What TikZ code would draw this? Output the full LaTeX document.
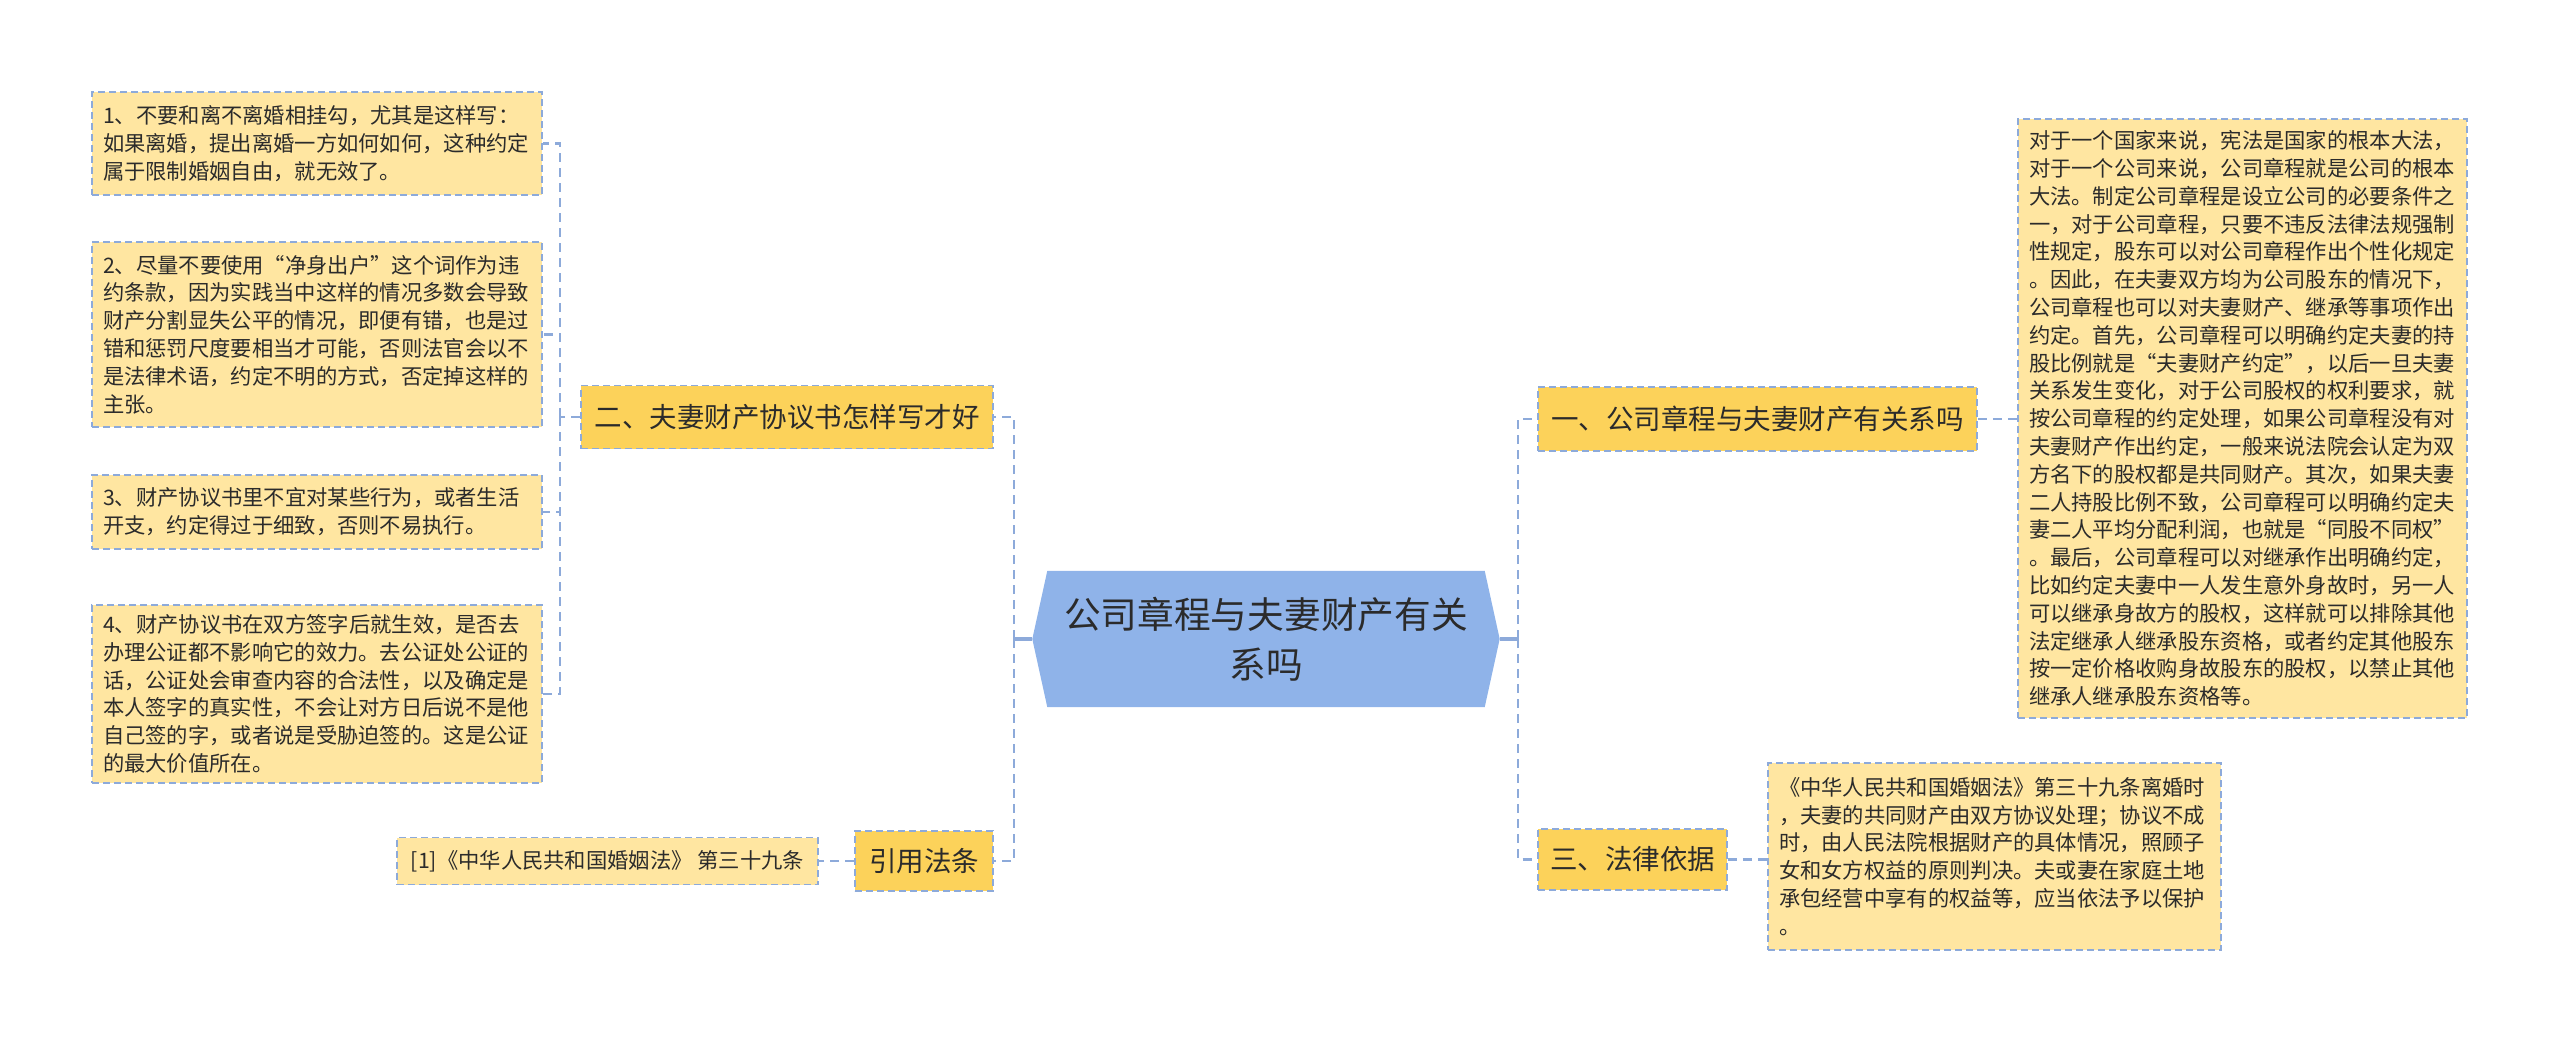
\documentclass[tikz,border=0pt]{standalone}
\usepackage{fontspec}
\setmainfont{Noto Sans CJK SC}
\usetikzlibrary{backgrounds}
\definecolor{rootblue}{HTML}{8FB3E9}
\definecolor{branchgold}{HTML}{FCD25A}
\definecolor{leafyellow}{HTML}{FFE6A1}
\definecolor{linkblue}{HTML}{8DAADA}
\definecolor{inkgray}{HTML}{2B2B2B}
\tikzset{
  root/.style={align=center, inner sep=0pt, text=inkgray,
    font=\fontsize{36.7pt}{50pt}\selectfont},
  topic/.style={draw=linkblue, dash pattern=on 7pt off 4pt, line width=1.6pt,
    fill=branchgold, inner sep=0pt, text=inkgray,
    font=\fontsize{27.5pt}{33pt}\selectfont},
  leaf/.style={draw=linkblue, dash pattern=on 7pt off 4pt, line width=1.4pt,
    fill=leafyellow, align=left, inner xsep=11pt, inner ysep=0pt, text=inkgray,
    font=\fontsize{21.3pt}{27.8pt}\selectfont},
  link/.style={draw=linkblue, line width=2.2pt, dash pattern=on 9pt off 6pt},
  stub/.style={draw=linkblue, line width=3.5pt},
}
\begin{document}
\begin{tikzpicture}[x=1pt, y=-1pt]
    \useasboundingbox (0,0) rectangle (2560,1043);
    % Centre topic
    \node[root, minimum width=437pt, minimum height=136pt] (root) at (1266,639)
      {公司章程与夫妻财产有关\\系吗};
    \begin{scope}[on background layer]
      \fill[rootblue] ([xshift=-15pt]root.west) -- (root.north west) -- (root.north east)
        -- ([xshift=15pt]root.east) -- (root.south east) -- (root.south west) -- cycle;
    \end{scope}
    \coordinate (busL) at (1014,639);
    \coordinate (busR) at (1518,639);
    % Left side
    \node[topic, minimum width=412pt, minimum height=63pt] (n2) at (787,417)
      {二、夫妻财产协议书怎样写才好};
    \node[topic, minimum width=138pt, minimum height=60pt] (cite) at (924,861) {引用法条};
    \node[leaf, minimum width=421pt, minimum height=47pt] (citeleaf) at (607.5,861)
      {[1]《中华人民共和国婚姻法》 第三十九条};
    \node[leaf, text width=428pt, minimum height=103pt] (l1) at (317,143.5)
      {1、不要和离不离婚相挂勾，尤其是这样写：\\如果离婚，提出离婚一方如何如何，这种约定\\属于限制婚姻自由，就无效了。};
    \node[leaf, text width=428pt, minimum height=185pt] (l2) at (317,334.5)
      {2、尽量不要使用“净身出户”这个词作为违\\约条款，因为实践当中这样的情况多数会导致\\财产分割显失公平的情况，即便有错，也是过\\错和惩罚尺度要相当才可能，否则法官会以不\\是法律术语，约定不明的方式，否定掉这样的\\主张。};
    \node[leaf, text width=428pt, minimum height=74pt] (l3) at (317,512)
      {3、财产协议书里不宜对某些行为，或者生活\\开支，约定得过于细致，否则不易执行。};
    \node[leaf, text width=428pt, minimum height=178pt] (l4) at (317,694)
      {4、财产协议书在双方签字后就生效，是否去\\办理公证都不影响它的效力。去公证处公证的\\话，公证处会审查内容的合法性，以及确定是\\本人签字的真实性，不会让对方日后说不是他\\自己签的字，或者说是受胁迫签的。这是公证\\的最大价值所在。};
    % Right side
    \node[topic, minimum width=439pt, minimum height=64pt] (n1) at (1757.5,419)
      {一、公司章程与夫妻财产有关系吗};
    \node[topic, minimum width=189pt, minimum height=61pt] (n3) at (1632.5,859.5)
      {三、法律依据};
    \node[leaf, text width=427pt, minimum height=599pt] (r1) at (2242.5,418.5)
      {对于一个国家来说，宪法是国家的根本大法，\\对于一个公司来说，公司章程就是公司的根本\\大法。制定公司章程是设立公司的必要条件之\\一，对于公司章程，只要不违反法律法规强制\\性规定，股东可以对公司章程作出个性化规定\\。因此，在夫妻双方均为公司股东的情况下，\\公司章程也可以对夫妻财产、继承等事项作出\\约定。首先，公司章程可以明确约定夫妻的持\\股比例就是“夫妻财产约定”，以后一旦夫妻\\关系发生变化，对于公司股权的权利要求，就\\按公司章程的约定处理，如果公司章程没有对\\夫妻财产作出约定，一般来说法院会认定为双\\方名下的股权都是共同财产。其次，如果夫妻\\二人持股比例不致，公司章程可以明确约定夫\\妻二人平均分配利润，也就是“同股不同权”\\。最后，公司章程可以对继承作出明确约定，\\比如约定夫妻中一人发生意外身故时，另一人\\可以继承身故方的股权，这样就可以排除其他\\法定继承人继承股东资格，或者约定其他股东\\按一定价格收购身故股东的股权，以禁止其他\\继承人继承股东资格等。};
    \node[leaf, text width=431pt, minimum height=187pt] (r3) at (1994.5,856.5)
      {《中华人民共和国婚姻法》第三十九条离婚时\\，夫妻的共同财产由双方协议处理；协议不成\\时，由人民法院根据财产的具体情况，照顾子\\女和女方权益的原则判决。夫或妻在家庭土地\\承包经营中享有的权益等，应当依法予以保护\\。};
    % Connectors
    \draw[stub] ([xshift=-15pt]root.west) -- (busL);
    \draw[stub] ([xshift=15pt]root.east) -- (busR);
    \draw[link] (busL) |- (n2.east);
    \draw[link] (busL) |- (cite.east);
    \draw[link] (cite.west) -- (citeleaf.east);
    \coordinate (bus2) at ([xshift=-20pt]n2.west);
    \draw[link] (n2.west) -- (bus2);
    \foreach \l in {l1,l2,l3,l4}
      \draw[link] (bus2) |- (\l.east);
    \draw[link] (busR) |- (n1.west);
    \draw[link] (busR) |- (n3.west);
    \draw[link] (n1.east) -- (n1.east -| r1.west);
    \draw[link] (n3.east) -- (n3.east -| r3.west);
\end{tikzpicture}
\end{document}
